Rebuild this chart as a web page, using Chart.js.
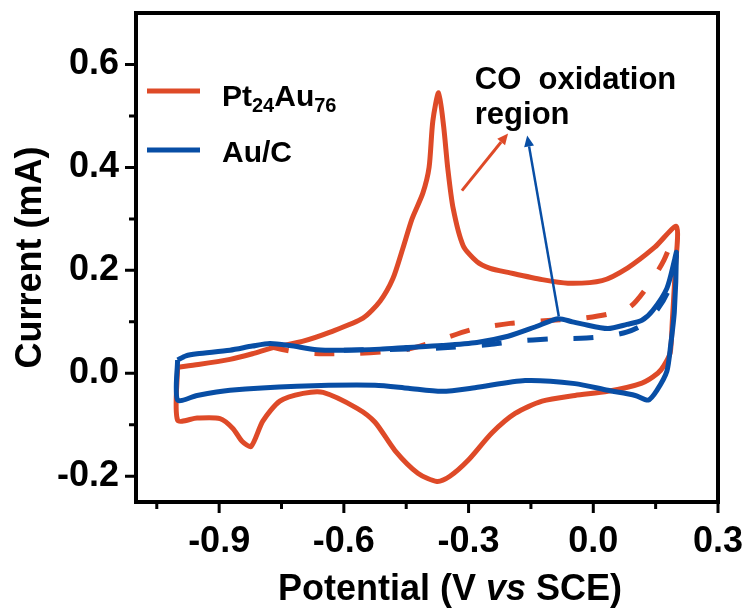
<!DOCTYPE html>
<html>
<head>
<meta charset="utf-8">
<script src="https://cdn.jsdelivr.net/npm/chart.js@4"></script>
<style>
html, body { margin: 0; padding: 0; background: #fff; }
</style>
</head>
<body>
<canvas id="cv" width="750" height="610"></canvas>
<script>
// CV curves: Pt24Au76 vs Au/C (solid = 1st scan with CO, dashed = 2nd scan)

const ptAuScanX = [-1.0, -0.95, -0.874, -0.82, -0.77, -0.70, -0.633, -0.554, -0.513, -0.482, -0.458, -0.436, -0.41, -0.395, -0.386, -0.372, -0.36, -0.35, -0.337, -0.313, -0.28, -0.248, -0.205, -0.123, -0.061, 0.021, 0.083, 0.148, 0.2, 0.197, 0.19, 0.185, 0.17, 0.155, 0.117, 0.035, -0.044, -0.123, -0.188, -0.244, -0.301, -0.345, -0.376, -0.422, -0.477, -0.525, -0.568, -0.65, -0.698, -0.754, -0.795, -0.823, -0.845, -0.867, -0.898, -0.953, -1.0, -1.0];
const ptAuScanY = [0.012, 0.017, 0.027, 0.038, 0.05, 0.062, 0.08, 0.107, 0.14, 0.184, 0.243, 0.30, 0.35, 0.40, 0.49, 0.545, 0.48, 0.398, 0.32, 0.248, 0.217, 0.204, 0.196, 0.182, 0.175, 0.18, 0.205, 0.245, 0.285, 0.2, 0.1, 0.04, 0.015, 0.0, -0.019, -0.035, -0.043, -0.054, -0.078, -0.116, -0.169, -0.2, -0.21, -0.194, -0.15, -0.095, -0.068, -0.037, -0.039, -0.054, -0.093, -0.142, -0.132, -0.107, -0.088, -0.087, -0.091, 0.012];

const ptAuBlankX = [-0.78, -0.72, -0.65, -0.566, -0.5, -0.445, -0.38, -0.292, -0.2, -0.1, -0.028, 0.035, 0.09, 0.136, 0.17, 0.2];
const ptAuBlankY = [0.052, 0.042, 0.038, 0.039, 0.042, 0.047, 0.062, 0.085, 0.097, 0.103, 0.107, 0.115, 0.13, 0.175, 0.22, 0.28];

const auScanX = [-1.0, -0.98, -0.953, -0.874, -0.82, -0.778, -0.73, -0.665, -0.6, -0.513, -0.45, -0.364, -0.28, -0.205, -0.14, -0.085, -0.05, -0.028, 0.035, 0.081, 0.117, 0.143, 0.177, 0.196, 0.2, 0.195, 0.186, 0.177, 0.153, 0.132, 0.101, 0.035, -0.044, -0.164, -0.285, -0.364, -0.445, -0.525, -0.713, -0.874, -0.953, -1.0, -1.0];
const auScanY = [0.026, 0.034, 0.038, 0.045, 0.053, 0.058, 0.054, 0.046, 0.045, 0.047, 0.05, 0.054, 0.06, 0.072, 0.09, 0.106, 0.1, 0.096, 0.087, 0.095, 0.103, 0.122, 0.165, 0.222, 0.235, 0.12, 0.054, 0.004, -0.033, -0.052, -0.043, -0.033, -0.02, -0.014, -0.028, -0.035, -0.029, -0.023, -0.025, -0.033, -0.043, -0.052, 0.026];

const auBlankX = [-0.6, -0.45, -0.35, -0.25, -0.19, -0.1, -0.03, 0.03, 0.08, 0.12, 0.155, 0.18, 0.2];
const auBlankY = [0.045, 0.047, 0.05, 0.056, 0.062, 0.067, 0.068, 0.072, 0.08, 0.095, 0.125, 0.16, 0.23];

const xMajorTicks = [-0.9, -0.6, -0.3, 0.0, 0.3];
const xMinorTicks = [-1.05, -0.75, -0.45, -0.15, 0.15];
const yMajorTicks = [-0.2, 0.0, 0.2, 0.4, 0.6];
const yMinorTicks = [-0.1, 0.1, 0.3, 0.5];

const RED = 'rgb(222, 74, 40)';
const BLUE = 'rgb(8, 78, 165)';
const FONT = '"Liberation Sans", Arial, sans-serif';

const toPts = (xs, ys) => xs.map((v, i) => ({ x: v, y: ys[i] }));

// 枠・目盛り・凡例・注釈・x軸タイトル
const decorPlugin = {
  id: 'decor',
  afterDraw(chart) {
    const { ctx, chartArea: a, scales: { x, y } } = chart;
    ctx.save();
    ctx.strokeStyle = '#000';
    ctx.lineWidth = 4;
    ctx.strokeRect(a.left, a.top, a.right - a.left, a.bottom - a.top);

    ctx.lineWidth = 3;
    ctx.beginPath();
    xMajorTicks.forEach(v => { const p = x.getPixelForValue(v); ctx.moveTo(p, a.bottom); ctx.lineTo(p, a.bottom + 11); });
    xMinorTicks.forEach(v => { const p = x.getPixelForValue(v); ctx.moveTo(p, a.bottom); ctx.lineTo(p, a.bottom + 7); });
    yMajorTicks.forEach(v => { const p = y.getPixelForValue(v); ctx.moveTo(a.left, p); ctx.lineTo(a.left - 11, p); });
    yMinorTicks.forEach(v => { const p = y.getPixelForValue(v); ctx.moveTo(a.left, p); ctx.lineTo(a.left - 7, p); });
    ctx.stroke();

    // legend
    ctx.lineWidth = 5;
    ctx.strokeStyle = RED;
    ctx.beginPath(); ctx.moveTo(a.left + 11, 91); ctx.lineTo(a.left + 64, 91); ctx.stroke();
    ctx.strokeStyle = BLUE;
    ctx.beginPath(); ctx.moveTo(a.left + 11, 150); ctx.lineTo(a.left + 64, 150); ctx.stroke();

    ctx.fillStyle = '#000';
    ctx.textBaseline = 'alphabetic';
    ctx.textAlign = 'left';
    let tx = a.left + 86;
    const big = 'bold 30px ' + FONT, sub = 'bold 20px ' + FONT;
    [['Pt', big, 0], ['24', sub, 6], ['Au', big, 0], ['76', sub, 6]].forEach(([t, f, dy]) => {
      ctx.font = f; ctx.fillText(t, tx, 106 + dy); tx += ctx.measureText(t).width;
    });
    ctx.font = big;
    ctx.fillText('Au/C', a.left + 86, 162);

    // annotation
    ctx.font = 'bold 31px ' + FONT;
    ctx.fillText('CO  oxidation', x.getPixelForValue(-0.285), y.getPixelForValue(0.553));
    ctx.fillText('region', x.getPixelForValue(-0.285), y.getPixelForValue(0.485));

    const arrow = (x0, y0, x1, y1, color, w) => {
      const p0 = [x.getPixelForValue(x0), y.getPixelForValue(y0)];
      const p1 = [x.getPixelForValue(x1), y.getPixelForValue(y1)];
      const ang = Math.atan2(p1[1] - p0[1], p1[0] - p0[0]);
      const hl = 11, hw = 5;
      const bx = p1[0] - hl * Math.cos(ang), by = p1[1] - hl * Math.sin(ang);
      ctx.strokeStyle = color; ctx.fillStyle = color; ctx.lineWidth = w;
      ctx.beginPath(); ctx.moveTo(p0[0], p0[1]); ctx.lineTo(bx, by); ctx.stroke();
      ctx.beginPath();
      ctx.moveTo(p1[0], p1[1]);
      ctx.lineTo(bx + hw * Math.sin(ang), by - hw * Math.cos(ang));
      ctx.lineTo(bx - hw * Math.sin(ang), by + hw * Math.cos(ang));
      ctx.closePath(); ctx.fill();
    };
    arrow(-0.316, 0.355, -0.205, 0.466, RED, 3);
    arrow(-0.083, 0.111, -0.159, 0.462, BLUE, 2.5);

    // x axis title with italic "vs"
    ctx.fillStyle = '#000';
    const parts = [['Potential (V ', 'bold 36px ' + FONT], ['vs', 'italic bold 36px ' + FONT], [' SCE)', 'bold 36px ' + FONT]];
    let total = 0;
    parts.forEach(([t, f]) => { ctx.font = f; total += ctx.measureText(t).width; });
    let px = (a.left + a.right) / 2 - total / 2 + 23;
    parts.forEach(([t, f]) => { ctx.font = f; ctx.fillText(t, px, 600); px += ctx.measureText(t).width; });
    ctx.restore();
  }
};

const lineStyle = (color, dash) => ({
  showLine: true, pointRadius: 0, borderWidth: 5, borderColor: color,
  backgroundColor: color, fill: false, tension: 0.25, borderDash: dash,
  borderCapStyle: 'butt', borderJoinStyle: 'round'
});

new Chart(document.getElementById('cv'), {
  type: 'scatter',
  data: {
    datasets: [
      { label: 'Au/C', data: toPts(auScanX, auScanY), ...lineStyle(BLUE, []) },
      { label: 'Au/C 2nd', data: toPts(auBlankX, auBlankY), ...lineStyle(BLUE, [20, 26]) },
      { label: 'Pt24Au76', data: toPts(ptAuScanX, ptAuScanY), ...lineStyle(RED, []) },
      { label: 'Pt24Au76 2nd', data: toPts(ptAuBlankX, ptAuBlankY), ...lineStyle(RED, [20, 26]) }
    ]
  },
  options: {
    responsive: false,
    animation: false,
    devicePixelRatio: 1,
    layout: { padding: { top: 13, right: 32, left: 0, bottom: 0 } },
    plugins: { legend: { display: false }, tooltip: { enabled: false } },
    scales: {
      x: {
        type: 'linear', min: -1.1, max: 0.3,
        afterBuildTicks: s => { s.ticks = xMajorTicks.map(v => ({ value: v })); },
        afterFit: s => { s.height = 108; s.paddingLeft = 0; s.paddingRight = 0; },
        grid: { display: false, drawTicks: false },
        border: { display: false },
        ticks: {
          padding: 18, color: '#000', maxRotation: 0, autoSkip: false,
          font: { family: FONT, weight: 'bold', size: 36 },
          callback: v => (Math.abs(v) < 1e-9 ? 0 : v).toFixed(1)
        }
      },
      y: {
        type: 'linear', min: -0.25, max: 0.7,
        afterBuildTicks: s => { s.ticks = yMajorTicks.map(v => ({ value: v })); },
        afterFit: s => { s.width = 136; s.paddingTop = 0; s.paddingBottom = 0; },
        grid: { display: false, drawTicks: false },
        border: { display: false },
        title: {
          display: true, text: 'Current (mA)', color: '#000',
          font: { family: FONT, weight: 'bold', size: 36 },
          padding: { top: 9, bottom: 0 }
        },
        ticks: {
          padding: 17, color: '#000', autoSkip: false,
          font: { family: FONT, weight: 'bold', size: 36 },
          callback: v => (Math.abs(v) < 1e-9 ? 0 : v).toFixed(1)
        }
      }
    }
  },
  plugins: [decorPlugin]
});
</script>
</body>
</html>
